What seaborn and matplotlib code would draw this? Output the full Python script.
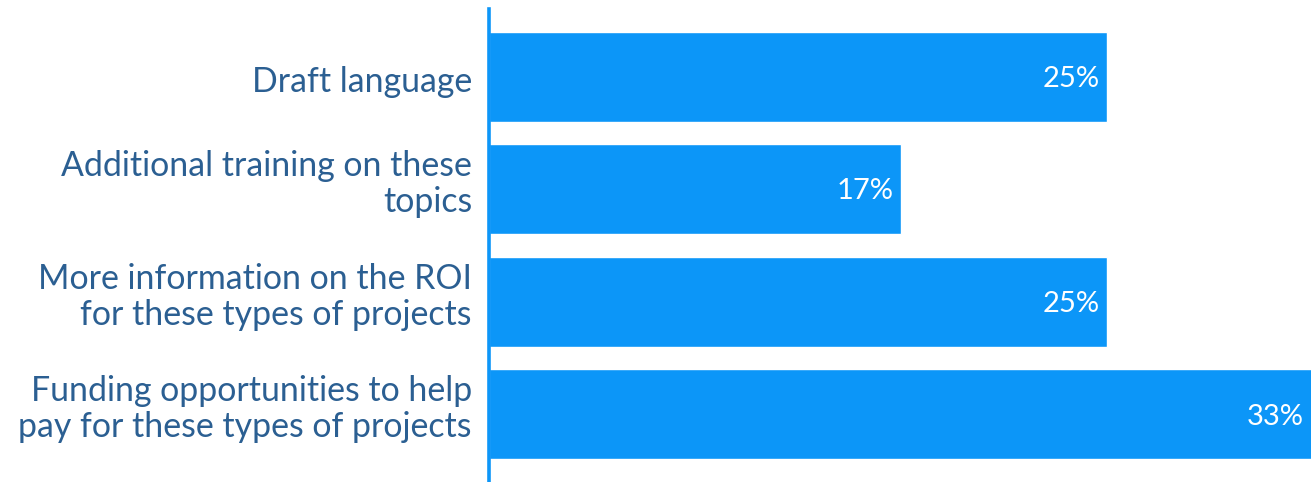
import matplotlib
matplotlib.use("Agg")
import matplotlib.pyplot as plt
import matplotlib.transforms as mtransforms
import seaborn as sns
import pandas as pd

categories = [
    "Draft language",
    "Additional training on these\ntopics",
    "More information on the ROI\nfor these types of projects",
    "Funding opportunities to help\npay for these types of projects",
]
shares = [25.0, 16.67, 25.0, 33.33]

BAR = "#0C96F8"
TEXT = "#2B5F92"

sns.set_theme(style="white")
plt.rcParams["font.family"] = ["Lato", "DejaVu Sans"]

df = pd.DataFrame({"category": categories, "share": shares})

fig = plt.figure(figsize=(13.11, 4.82), dpi=100)
ax = fig.add_axes([489 / 1311, 0.0, 1 - 489 / 1311, 1 - 9 / 482])

sns.barplot(data=df, y="category", x="share", color=BAR, saturation=1,
            width=0.8, ax=ax, orient="h")

ax.set_xlim(0, 33.25)
ax.set_ylim(3.6, -0.6)
ax.set_xlabel("")
ax.set_ylabel("")
ax.set_xticks([])
for s in ["top", "right", "bottom"]:
    ax.spines[s].set_visible(False)
ax.spines["left"].set_color(BAR)
ax.spines["left"].set_linewidth(2.6)
ax.tick_params(axis="y", length=0, labelleft=False)

# Category labels to the left of the axis; wrapped labels sit a little high
base = mtransforms.blended_transform_factory(ax.transAxes, ax.transData)
for i, cat in enumerate(categories):
    lift = 5 if "\n" in cat else -5
    tr = base + mtransforms.ScaledTranslation(-17 / 100, lift / 100, fig.dpi_scale_trans)
    ax.text(0, i, cat, transform=tr, ha="right", va="center", fontsize=24.4,
            color=TEXT, linespacing=1.15, multialignment="right")

for i, v in enumerate(shares):
    ax.text(min(v, 33.25) - 0.3, i + 0.02, f"{v:.0f}%", ha="right", va="center",
            color="white", fontsize=21)

fig.savefig("out.png", dpi=100)
